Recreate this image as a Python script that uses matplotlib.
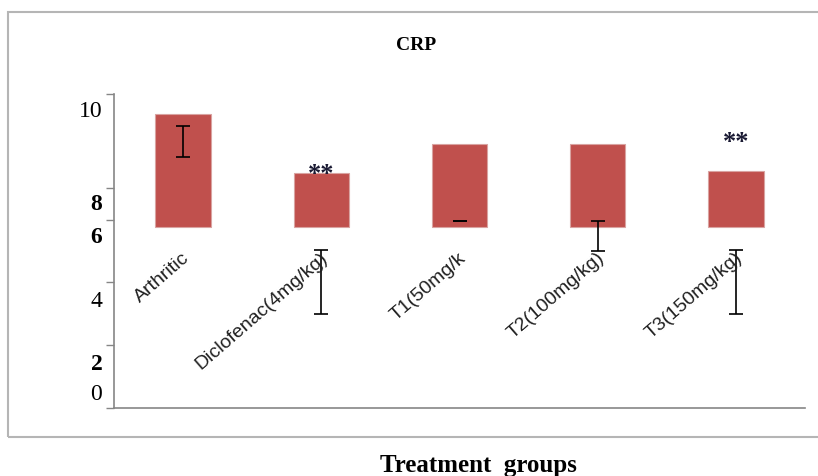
import matplotlib
matplotlib.use("Agg")
import matplotlib.pyplot as plt
from matplotlib.patches import Rectangle
from matplotlib.transforms import blended_transform_factory

# data
groups = ["Arthritic", "Diclofenac(4mg/kg)", "T1(50mg/k", "T2(100mg/kg)", "T3(150mg/kg)"]
crp_top = [9.37, 7.49, 8.41, 8.41, 7.56]
bar_base = 5.78
err_center = [8.49, 4.0, 5.97, 5.49, 4.0]
err_half = [0.49, 1.02, 0.0, 0.48, 1.02]
star_level = [None, 7.62, None, None, 8.63]
ytick_labels = ["0", "2", "4", "6", "8", "10"]

# layout (the reference places ticks and labels oddly)
ytick_marks = [0, 2, 4, 6, 7, 10]
ylabel_pos = [0.45, 1.43, 3.43, 5.46, 6.5, 9.49]
ylabel_weight = ["normal", "bold", "normal", "bold", "bold", "normal"]
xlabel_y = 5.08

fig = plt.figure(figsize=(8.18, 4.77), dpi=100)
ax = fig.add_axes([114 / 818, 1 - 409 / 477, 691 / 818, 314 / 477])

x = list(range(len(groups)))
heights = [v - bar_base for v in crp_top]
ax.bar(x, heights, bottom=bar_base, width=0.4, color="#C0504D",
       edgecolor="#D9A3A1", linewidth=0.8, zorder=2)
ax.errorbar(x, err_center, yerr=err_half, fmt="none", ecolor="black",
            elinewidth=1.2, capsize=5, capthick=1.2, zorder=3)

for xi, s in zip(x, star_level):
    if s is not None:
        ax.text(xi, s - 0.15, "**", ha="center", va="center", fontsize=19,
                fontweight="bold", family="Liberation Serif", color="#1a1a33", zorder=4)

# category labels sit up in the plot, rotated
for xi, g in zip(x, groups):
    ax.text(xi - 0.01, xlabel_y, g, rotation=41, rotation_mode="anchor",
            ha="right", va="top", fontsize=14, family="Liberation Sans",
            color="#202020")

ax.set_xlim(-0.5, 4.5)
ax.set_ylim(0, 10)
ax.set_xticks([])
ax.set_yticks(ytick_marks)
ax.set_yticklabels([])
ax.tick_params(axis="y", length=6, color="#868686", width=1)

trans = blended_transform_factory(ax.transAxes, ax.transData)
for lab, yp, w in zip(ytick_labels, ylabel_pos, ylabel_weight):
    ax.text(-0.017, yp, lab, transform=trans, ha="right", va="center",
            fontsize=17, fontweight=w, family="Liberation Serif", color="black")

for side in ["top", "right"]:
    ax.spines[side].set_visible(False)
for side in ["left", "bottom"]:
    ax.spines[side].set_color("#868686")
    ax.spines[side].set_linewidth(1.2)

# outer chart border
fig.add_artist(Rectangle((8 / 818, 1 - 438 / 477), 1.0, 425 / 477,
                         transform=fig.transFigure, fill=False,
                         edgecolor="#B5B5B5", linewidth=1.5))

fig.text(416 / 818, 1 - 45 / 477, "CRP", ha="center", va="center",
         fontsize=14, fontweight="bold", family="Liberation Serif")
fig.text(478 / 818, 1 - 466 / 477, "Treatment  groups", ha="center", va="center",
         fontsize=18, fontweight="bold", family="Liberation Serif")

fig.savefig("out.png", dpi=100)
